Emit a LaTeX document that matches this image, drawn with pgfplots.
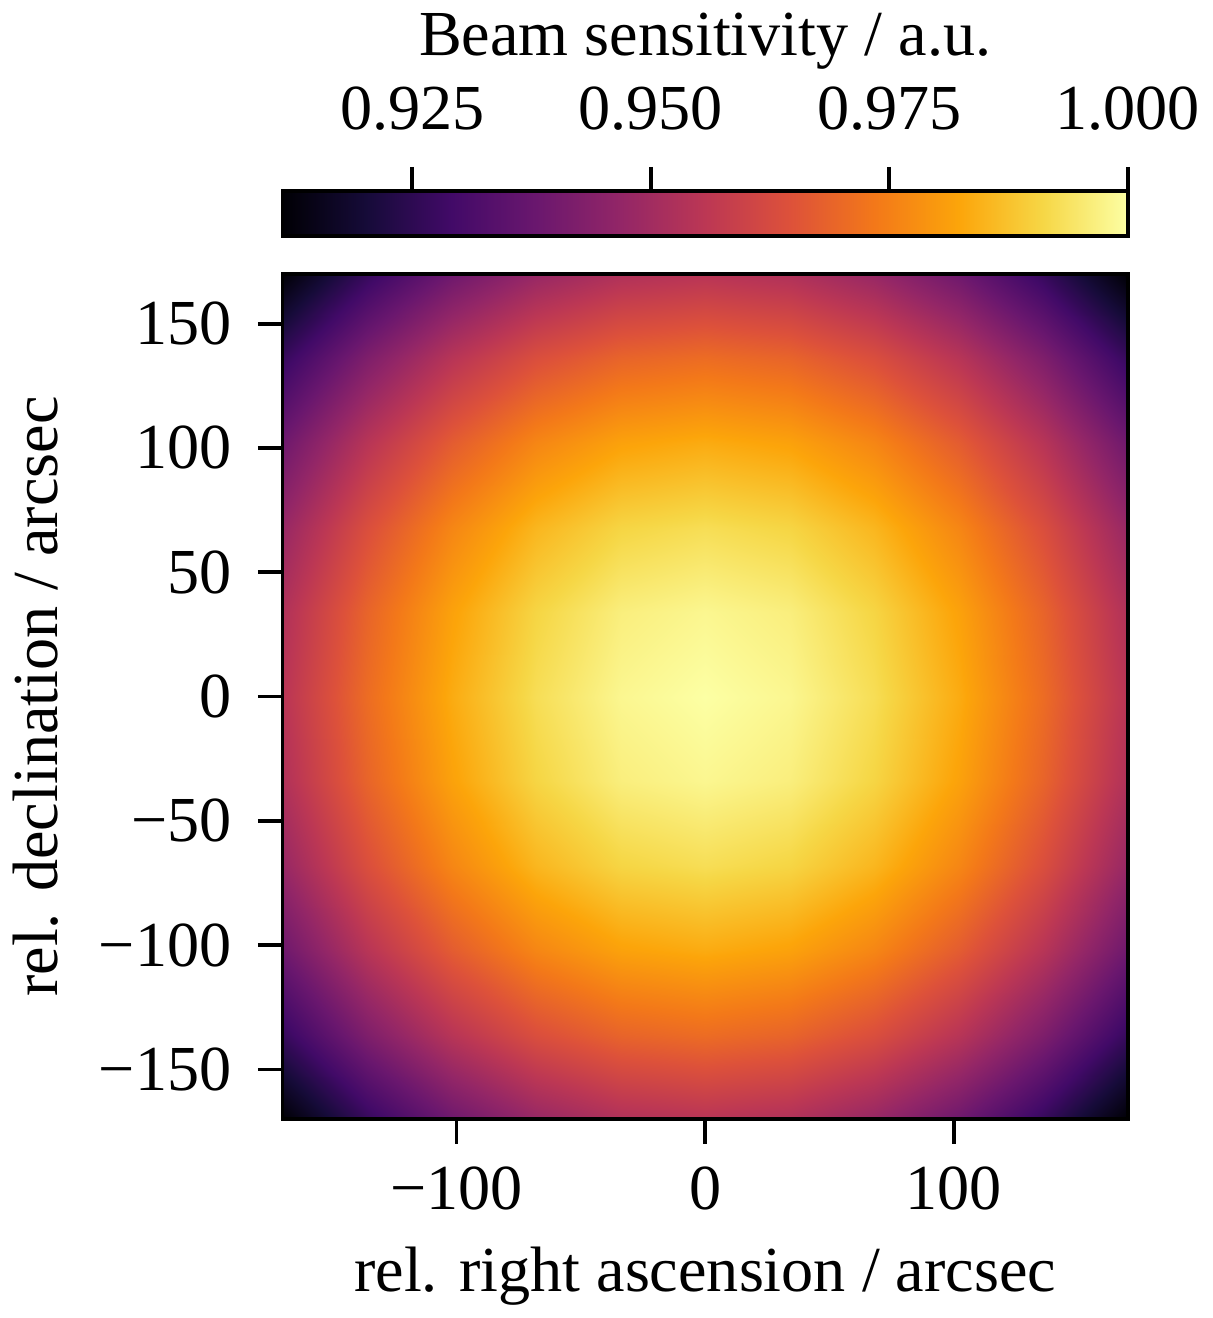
\documentclass[border=0pt]{standalone}
\usepackage{fontspec}
\setmainfont{Liberation Serif}
\usepackage{pgfplots}
\pgfplotsset{compat=1.18}
% inferno (11 samples)
\pgfplotsset{
  colormap={inferno}{rgb255=(0,0,4) rgb255=(22,11,57) rgb255=(66,10,104)
    rgb255=(106,23,110) rgb255=(147,38,103) rgb255=(188,55,84)
    rgb255=(221,81,58) rgb255=(243,120,25) rgb255=(252,165,10)
    rgb255=(246,215,70) rgb255=(252,255,164)},
  every axis/.append style={
    font=\fontsize{17}{19}\selectfont,
    axis line style={black, line width=1pt},
    tick style={black, line width=1pt},
    major tick length=6.5pt,
    tick align=outside,
  }
}
\begin{document}
\begin{tikzpicture}
\begin{axis}[
  scale only axis,
  width=224pt, height=224pt,
  xmin=-170, xmax=170, ymin=-170, ymax=170,
  axis on top,
  colormap name=inferno,
  point meta min=0.9114, point meta max=1.0,
  xtick pos=left, ytick pos=left,
  xtick={-100,0,100}, xticklabels={−100,0,100},
  ytick={-150,-100,-50,0,50,100,150},
  yticklabels={−150,−100,−50,0,50,100,150},
  xticklabel style={yshift=-2.5pt},
  yticklabel style={xshift=-3.5pt},
  xlabel={rel. right ascension / arcsec},
  ylabel={rel. declination / arcsec},
  xlabel shift=3pt,
  ylabel shift=4pt,
  colorbar horizontal,
  colorbar style={
    at={(0,1.045)}, anchor=south west,
    scale only axis, width=224pt, height=11.8pt,
    xtick={0.925,0.95,0.975,1.0},
    xticklabels={0.925,0.950,0.975,1.000},
    xtick pos=right, xticklabel pos=right,
    xticklabel style={yshift=6pt},
    xlabel={Beam sensitivity / a.u.},
    xlabel shift=-2pt,
  },
]
\addplot[surf, shader=interp, mesh/rows=11, mesh/cols=11, point meta=explicit] coordinates {
(-170,-170) [0.9114] (-136,-170) [0.9267] (-102,-170) [0.9388] (-68,-170) [0.9476] (-34,-170) [0.9529] (0,-170) [0.9547] (34,-170) [0.9529] (68,-170) [0.9476] (102,-170) [0.9388] (136,-170) [0.9267] (170,-170) [0.9114]

(-170,-136) [0.9267] (-136,-136) [0.9423] (-102,-136) [0.9547] (-68,-136) [0.9636] (-34,-136) [0.9689] (0,-136) [0.9707] (34,-136) [0.9689] (68,-136) [0.9636] (102,-136) [0.9547] (136,-136) [0.9423] (170,-136) [0.9267]

(-170,-102) [0.9388] (-136,-102) [0.9547] (-102,-102) [0.9671] (-68,-102) [0.9762] (-34,-102) [0.9816] (0,-102) [0.9834] (34,-102) [0.9816] (68,-102) [0.9762] (102,-102) [0.9671] (136,-102) [0.9547] (170,-102) [0.9388]

(-170,-68) [0.9476] (-136,-68) [0.9636] (-102,-68) [0.9762] (-68,-68) [0.9853] (-34,-68) [0.9908] (0,-68) [0.9926] (34,-68) [0.9908] (68,-68) [0.9853] (102,-68) [0.9762] (136,-68) [0.9636] (170,-68) [0.9476]

(-170,-34) [0.9529] (-136,-34) [0.9689] (-102,-34) [0.9816] (-68,-34) [0.9908] (-34,-34) [0.9963] (0,-34) [0.9981] (34,-34) [0.9963] (68,-34) [0.9908] (102,-34) [0.9816] (136,-34) [0.9689] (170,-34) [0.9529]

(-170,0) [0.9547] (-136,0) [0.9707] (-102,0) [0.9834] (-68,0) [0.9926] (-34,0) [0.9981] (0,0) [1.0000] (34,0) [0.9981] (68,0) [0.9926] (102,0) [0.9834] (136,0) [0.9707] (170,0) [0.9547]

(-170,34) [0.9529] (-136,34) [0.9689] (-102,34) [0.9816] (-68,34) [0.9908] (-34,34) [0.9963] (0,34) [0.9981] (34,34) [0.9963] (68,34) [0.9908] (102,34) [0.9816] (136,34) [0.9689] (170,34) [0.9529]

(-170,68) [0.9476] (-136,68) [0.9636] (-102,68) [0.9762] (-68,68) [0.9853] (-34,68) [0.9908] (0,68) [0.9926] (34,68) [0.9908] (68,68) [0.9853] (102,68) [0.9762] (136,68) [0.9636] (170,68) [0.9476]

(-170,102) [0.9388] (-136,102) [0.9547] (-102,102) [0.9671] (-68,102) [0.9762] (-34,102) [0.9816] (0,102) [0.9834] (34,102) [0.9816] (68,102) [0.9762] (102,102) [0.9671] (136,102) [0.9547] (170,102) [0.9388]

(-170,136) [0.9267] (-136,136) [0.9423] (-102,136) [0.9547] (-68,136) [0.9636] (-34,136) [0.9689] (0,136) [0.9707] (34,136) [0.9689] (68,136) [0.9636] (102,136) [0.9547] (136,136) [0.9423] (170,136) [0.9267]

(-170,170) [0.9114] (-136,170) [0.9267] (-102,170) [0.9388] (-68,170) [0.9476] (-34,170) [0.9529] (0,170) [0.9547] (34,170) [0.9529] (68,170) [0.9476] (102,170) [0.9388] (136,170) [0.9267] (170,170) [0.9114]
};
\end{axis}
\end{tikzpicture}
\end{document}
